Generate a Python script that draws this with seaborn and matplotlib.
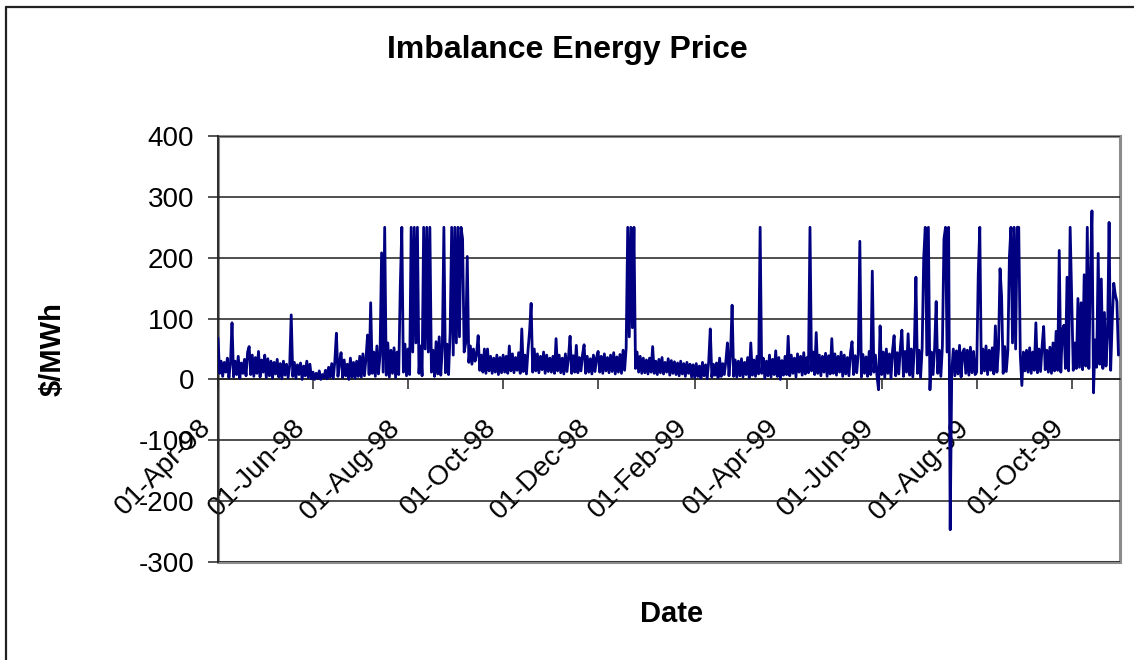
import numpy as np
import pandas as pd
import matplotlib
matplotlib.use("Agg")
import matplotlib.pyplot as plt
from matplotlib.lines import Line2D
from matplotlib.transforms import ScaledTranslation
import seaborn as sns

# ---------------- data (daily readings, $/MWh) ----------------
start_date = "1998-04-01"
end_date = "1999-11-01"

apr98 = [68, 10, 30, 5, 28, 12, 35, 3, 26, 93,
         4, 30, 8, 38, 2, 27, 10, 33, 6, 45,
         54, 8, 40, 5, 36, 10, 46, 4, 32, 12]
may98 = [40, 3, 34, 6, 30, 2, 28, 9, 33, 4,
         26, 1, 30, 7, 25, 3, 22, 106, 5, 28,
         2, 24, 8, 27, 0, 22, 6, 30, 3, 25,
         1]
jun98 = [12, 0, 10, 2, 14, 0, 8, 3, 15, 1,
         20, 4, 26, 2, 30, 76, 5, 28, 44, 3,
         32, 6, 25, 0, 35, 4, 28, 2, 30, 5]
jul98 = [38, 4, 42, 6, 35, 73, 8, 126, 10, 45,
         5, 55, 9, 40, 208, 12, 250, 7, 60, 4,
         48, 10, 52, 3, 45, 8, 152, 250, 12, 58,
         6]
aug98 = [50, 8, 250, 45, 250, 60, 250, 10, 55, 6,
         250, 50, 250, 45, 250, 12, 48, 5, 62, 9,
         70, 7, 52, 250, 11, 58, 8, 76, 250, 40,
         250]
sep98 = [60, 250, 70, 250, 231, 45, 60, 202, 28, 55,
         25, 50, 30, 42, 72, 15, 40, 12, 50, 10,
         50, 14, 38, 10, 35, 12, 40, 8, 36, 11]
oct98 = [40, 12, 38, 10, 55, 14, 42, 11, 36, 15,
         44, 10, 83, 13, 40, 9, 48, 79, 125, 12,
         50, 14, 42, 11, 38, 16, 45, 10, 40, 13,
         35]
nov98 = [12, 38, 10, 67, 14, 40, 11, 35, 9, 42,
         13, 37, 71, 10, 39, 12, 56, 11, 36, 14,
         41, 57, 10, 38, 12, 34, 9, 40, 13, 36]
dec98 = [46, 12, 38, 10, 42, 14, 36, 11, 40, 13,
         44, 9, 37, 12, 41, 10, 48, 15, 52, 250,
         70, 250, 85, 250, 18, 45, 12, 38, 10, 35,
         11]
jan99 = [32, 9, 35, 12, 54, 10, 30, 8, 33, 11,
         36, 9, 28, 12, 34, 7, 31, 10, 29, 8,
         27, 6, 30, 9, 26, 5, 28, 10, 25, 4,
         24]
feb99 = [3, 26, 5, 22, 2, 28, 6, 24, 1, 30,
         83, 4, 25, 7, 27, 3, 35, 5, 26, 8,
         30, 60, 6, 40, 122, 5, 32, 4]
mar99 = [30, 6, 34, 4, 28, 8, 36, 3, 60, 7,
         32, 5, 38, 9, 250, 10, 35, 2, 30, 6,
         40, 4, 33, 8, 47, 5, 36, 0, 31, 7,
         38]
apr99 = [8, 71, 6, 40, 10, 35, 4, 42, 12, 38,
         7, 44, 9, 36, 11, 250, 14, 45, 8, 77,
         10, 40, 6, 38, 12, 43, 5, 39, 9, 67]
may99 = [10, 42, 7, 38, 12, 45, 5, 40, 9, 36,
         6, 44, 62, 8, 39, 11, 43, 227, 4, 41,
         10, 37, 5, 46, 8, 178, 12, 40, 6, -17,
         88]
jun99 = [8, 45, 3, 50, 10, 42, 2, 48, 72, 6,
         44, 9, 52, 81, 5, 46, 12, 75, 7, 50,
         4, 55, 168, 10, 48, 3, 52, 200, 250, 40]
jul99 = [250, -17, 45, 8, 52, 128, 10, 48, 5, 55,
         231, 250, 45, 250, -247, 12, 50, 6, 47, 9,
         56, 4, 44, 50, 10, 48, 7, 53, 11, 46,
         8]
aug99 = [12, 172, 250, 10, 50, 14, 55, 8, 48, 15,
         52, 9, 88, 12, 50, 182, 136, 10, 54, 13,
         47, 201, 250, 60, 250, 50, 250, 250, 40, -10,
         45]
sep99 = [14, 48, 12, 52, 10, 45, 15, 93, 11, 50,
         13, 55, 87, 16, 48, 12, 53, 10, 60, 14,
         79, 15, 212, 12, 81, 89, 18, 168, 14, 250]
oct99 = [135, 15, 60, 18, 133, 20, 126, 16, 172, 22,
         250, 18, 171, 277, -22, 65, 20, 207, 25, 165,
         18, 110, 22, 70, 258, 15, 95, 158, 139, 128,
         40]

tick_dates = ["1998-04-01", "1998-06-01", "1998-08-01", "1998-10-01",
              "1998-12-01", "1999-02-01", "1999-04-01", "1999-06-01",
              "1999-08-01", "1999-10-01"]
tick_labels = ["01-Apr-98", "01-Jun-98", "01-Aug-98", "01-Oct-98",
               "01-Dec-98", "01-Feb-99", "01-Apr-99", "01-Jun-99",
               "01-Aug-99", "01-Oct-99"]
y_ticks = [-300, -200, -100, 0, 100, 200, 300, 400]

title = "Imbalance Energy Price"
x_title = "Date"
y_title = "$/MWh"

# ---------------- build frame ----------------
prices = np.concatenate([apr98, may98, jun98, jul98, aug98, sep98, oct98,
                         nov98, dec98, jan99, feb99, mar99, apr99, may99,
                         jun99, jul99, aug99, sep99, oct99]).astype(float)
dates = pd.date_range(start_date, periods=len(prices), freq="D")
df = pd.DataFrame({"Date": dates, "Price": prices})

sns.set_theme(style="white")
plt.rcParams["font.family"] = ["Liberation Sans", "DejaVu Sans"]
plt.rcParams["axes.unicode_minus"] = False
plt.rcParams["text.color"] = "black"
plt.rcParams["axes.labelcolor"] = "black"
plt.rcParams["xtick.color"] = "black"
plt.rcParams["ytick.color"] = "black"

W, H = 1134, 660
fig = plt.figure(figsize=(W / 100, H / 100), dpi=100)
fig.patch.set_facecolor("white")
L, R, T, B = 218, 1120, 136, 562
ax = fig.add_axes([L / W, 1 - B / H, (R - L) / W, (B - T) / H])

sns.lineplot(data=df, x="Date", y="Price", ax=ax, color="#000080",
             lw=2.0, estimator=None, zorder=3)

ax.set_ylim(-300, 400)
ax.set_xlim(pd.Timestamp(start_date), pd.Timestamp(end_date))
ax.set_xlabel("")
ax.set_ylabel("")

# grid and frame
ax.set_axisbelow(True)
ax.yaxis.grid(True, color="#1e1e1e", lw=1.1)
ax.xaxis.grid(False)
ax.patch.set_edgecolor("#8c8c8c")
ax.patch.set_linewidth(2.2)
for s in ["top", "right"]:
    ax.spines[s].set_visible(False)
ax.spines["left"].set_color("#262626")
ax.spines["left"].set_linewidth(1.3)
ax.spines["bottom"].set_position(("data", 0))
ax.spines["bottom"].set_color("#1e1e1e")
ax.spines["bottom"].set_linewidth(1.1)

ax.tick_params(axis="y", direction="out", length=7.2, width=1.1,
               color="#262626", labelsize=20, pad=10, left=True,
               labelcolor="black")
ax.tick_params(axis="x", direction="out", length=7.2, width=1.1,
               color="#262626", labelsize=20, pad=18, bottom=True,
               labelcolor="black", labelrotation=45)

ax.set_yticks(y_ticks)
ax.set_xticks(pd.to_datetime(tick_dates))
ax.set_xticklabels(tick_labels)

shift = ScaledTranslation(-2 / 100, 0, fig.dpi_scale_trans)
for lab in ax.get_xticklabels():
    lab.set_rotation(45)
    lab.set_horizontalalignment("right")
    lab.set_verticalalignment("top")
    lab.set_rotation_mode("default")
    lab.set_transform(lab.get_transform() + shift)

# titles
fig.text(567 / W, 1 - 50 / H, title, ha="center", va="center",
         fontsize=23, fontweight="bold", color="black")
fig.text(672 / W, 1 - 614 / H, x_title, ha="center", va="center",
         fontsize=21, fontweight="bold", color="black")
fig.text(53 / W, 1 - 349 / H, y_title, ha="center", va="center",
         rotation=90, fontsize=21, fontweight="bold", color="black",
         parse_math=False)

# outer chart frame (left and top edges)
fig.add_artist(Line2D([6 / W, 6 / W], [0, 1 - 7 / H], transform=fig.transFigure,
                      color="#222222", lw=1.6))
fig.add_artist(Line2D([6 / W, 1], [1 - 7 / H, 1 - 7 / H], transform=fig.transFigure,
                      color="#222222", lw=1.6))

fig.savefig("out.png", dpi=100, facecolor="white")
